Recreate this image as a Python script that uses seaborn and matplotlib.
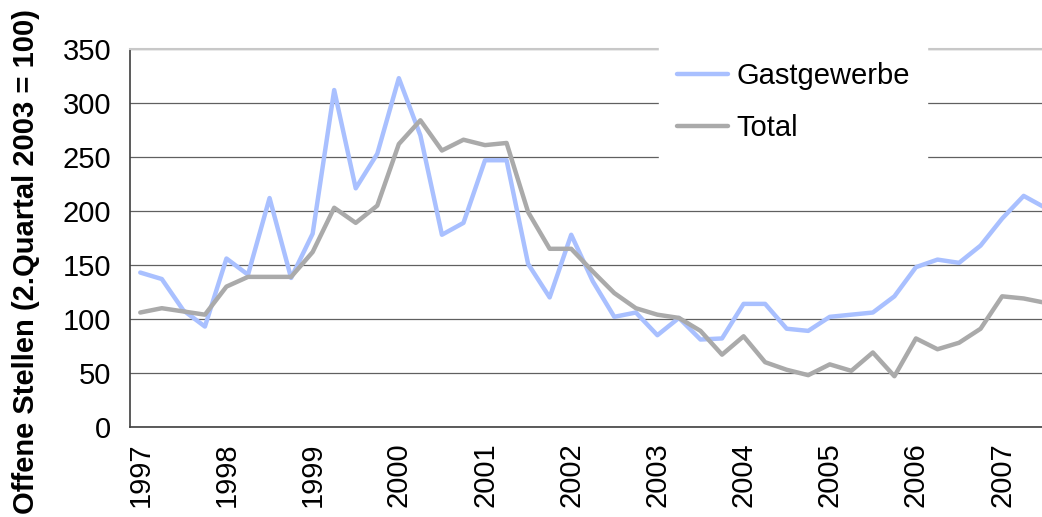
import numpy as np
import pandas as pd
import matplotlib
matplotlib.use("Agg")
import matplotlib.pyplot as plt
import seaborn as sns

# Quartalswerte 1997 Q1 bis 2007 Q3
years = list(range(1997, 2008))
gastgewerbe = [143, 137, 108, 93, 156, 141, 212, 138, 179, 312, 221, 253,
               323, 270, 178, 189, 247, 247, 151, 120, 178, 135, 102, 106,
               85, 101, 81, 82, 114, 114, 91, 89, 102, 104, 106, 121,
               148, 155, 152, 168, 193, 214, 203]
total = [106, 110, 107, 104, 130, 139, 139, 139, 162, 203, 189, 205,
         262, 284, 256, 266, 261, 263, 199, 165, 165, 144, 124, 110,
         104, 101, 89, 67, 84, 60, 53, 48, 58, 52, 69, 47,
         82, 72, 78, 91, 121, 119, 115]
series_names = ["Gastgewerbe", "Total"]
colors = ["#A9C0FF", "#AAAAAA"]

n = len(gastgewerbe)
df = pd.DataFrame({
    "q": list(range(n)) * 2,
    "wert": gastgewerbe + total,
    "serie": [series_names[0]] * n + [series_names[1]] * n,
})

sns.set_style("white")
plt.rcParams["font.family"] = ["Liberation Sans", "DejaVu Sans"]
plt.rcParams["text.color"] = "black"
plt.rcParams["xtick.color"] = "black"
plt.rcParams["ytick.color"] = "black"
plt.rcParams["axes.labelcolor"] = "black"

fig = plt.figure(figsize=(10.42, 5.17), dpi=100)
ax = fig.add_axes([129.5 / 1042, 90 / 517, (1056 - 129.5) / 1042, 378 / 517])

sns.lineplot(data=df, x="q", y="wert", hue="serie", palette=colors,
             linewidth=3.2, ax=ax, legend=True)

ax.set_xlim(-0.5, n - 0.5)
ax.set_ylim(0, 350)
ax.set_yticks(range(0, 351, 50))
ax.yaxis.grid(True, color="#606060", linewidth=0.9)
ax.set_axisbelow(True)

# Jahreslabels auf Q1, Teilstriche zwischen Kategorien
ax.set_xticks(range(0, n, 4))
ax.set_xticklabels([str(y) for y in years], rotation=90)
ax.set_xticks(np.arange(-0.5, n, 1), minor=True)
ax.tick_params(axis="x", which="major", length=0, pad=11, labelsize=21)
ax.tick_params(axis="x", which="minor", length=9, width=1, color="#404040", direction="out")
ax.tick_params(axis="y", length=9, width=1, color="#404040", direction="out", labelsize=21, pad=4)

for s in ["left", "bottom"]:
    ax.spines[s].set_color("#404040")
    ax.spines[s].set_linewidth(1.2)
ax.spines["top"].set_color("#C8C8C8")
ax.spines["top"].set_linewidth(1.5)
ax.spines["right"].set_visible(False)

ax.set_xlabel("")
ax.set_ylabel("Offene Stellen (2.Quartal 2003 = 100)", fontsize=21, fontweight="bold")
ax.yaxis.set_label_coords(-0.0966, 0.437)

leg = ax.legend(loc="upper left", bbox_to_anchor=(659 / 1042, 1 - 45 / 517),
                bbox_transform=fig.transFigure, borderaxespad=0, fontsize=21,
                frameon=True, fancybox=False, framealpha=1, edgecolor="white",
                handlelength=1.75, handletextpad=0.3, labelspacing=0.8,
                borderpad=0.6, title=None)
for line in leg.get_lines():
    line.set_linewidth(3.2)
leg.set_zorder(5)

fig.savefig("out.png", dpi=100)
